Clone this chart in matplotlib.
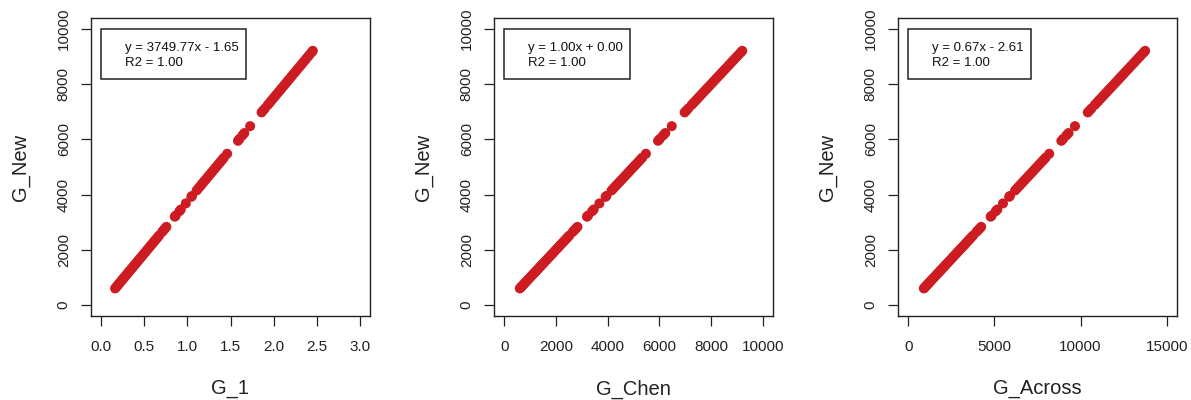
import numpy as np
import matplotlib
matplotlib.use("Agg")
import matplotlib.pyplot as plt
import matplotlib.transforms as mtransforms
from matplotlib.patches import Rectangle

plt.rcParams['font.family'] = ['Liberation Sans', 'DejaVu Sans']

# values (all three panels share G_New)
g_new = [600, 640, 680, 720, 760, 800, 850, 900, 950, 1000, 1050, 1100, 1150, 1200,
         1250, 1300, 1350, 1400, 1450, 1500, 1560, 1620, 1680, 1740, 1800, 1860, 1920,
         1980, 2040, 2100, 2160, 2220, 2280, 2340, 2400, 2460, 2520, 2650, 2710, 2770,
         2830, 3200, 3240, 3400, 3460, 3680, 3920, 3950, 4150, 4220, 4290, 4360, 4430,
         4500, 4570, 4640, 4710, 4780, 4850, 4920, 4990, 5060, 5130, 5200, 5270, 5340,
         5480, 5950, 6020, 6150, 6230, 6480, 6980, 7040, 7120, 7250, 7330, 7400, 7480,
         7560, 7640, 7720, 7800, 7880, 7960, 8040, 8120, 8200, 8280, 8360, 8440, 8520,
         8600, 8680, 8760, 8840, 8920, 9000, 9080, 9160, 9210]

g_1 = [0.160, 0.171, 0.181, 0.192, 0.203, 0.213, 0.227, 0.240, 0.253, 0.267, 0.280,
       0.293, 0.307, 0.320, 0.333, 0.347, 0.360, 0.373, 0.387, 0.400, 0.416, 0.432,
       0.448, 0.464, 0.480, 0.496, 0.512, 0.528, 0.544, 0.560, 0.576, 0.592, 0.608,
       0.624, 0.640, 0.656, 0.672, 0.707, 0.723, 0.739, 0.755, 0.853, 0.864, 0.907,
       0.923, 0.981, 1.045, 1.053, 1.107, 1.125, 1.144, 1.163, 1.181, 1.200, 1.219,
       1.237, 1.256, 1.275, 1.293, 1.312, 1.331, 1.349, 1.368, 1.387, 1.405, 1.424,
       1.461, 1.587, 1.605, 1.640, 1.661, 1.728, 1.861, 1.877, 1.899, 1.933, 1.955,
       1.973, 1.995, 2.016, 2.037, 2.059, 2.080, 2.101, 2.123, 2.144, 2.165, 2.187,
       2.208, 2.229, 2.251, 2.272, 2.293, 2.315, 2.336, 2.357, 2.379, 2.400, 2.421,
       2.443, 2.456]

g_chen = [600, 640, 680, 720, 760, 800, 850, 900, 950, 1000, 1050, 1100, 1150, 1200,
          1250, 1300, 1350, 1400, 1450, 1500, 1560, 1620, 1680, 1740, 1800, 1860, 1920,
          1980, 2040, 2100, 2160, 2220, 2280, 2340, 2400, 2460, 2520, 2650, 2710, 2770,
          2830, 3200, 3240, 3400, 3460, 3680, 3920, 3950, 4150, 4220, 4290, 4360, 4430,
          4500, 4570, 4640, 4710, 4780, 4850, 4920, 4990, 5060, 5130, 5200, 5270, 5340,
          5480, 5950, 6020, 6150, 6230, 6480, 6980, 7040, 7120, 7250, 7330, 7400, 7480,
          7560, 7640, 7720, 7800, 7880, 7960, 8040, 8120, 8200, 8280, 8360, 8440, 8520,
          8600, 8680, 8760, 8840, 8920, 9000, 9080, 9160, 9210]

g_across = [899, 959, 1019, 1079, 1138, 1198, 1273, 1347, 1422, 1496, 1571, 1646, 1720,
            1795, 1870, 1944, 2019, 2093, 2168, 2243, 2332, 2422, 2511, 2601, 2690, 2780,
            2870, 2959, 3049, 3138, 3228, 3317, 3407, 3497, 3586, 3676, 3765, 3959, 4049,
            4138, 4228, 4780, 4840, 5079, 5168, 5496, 5855, 5900, 6198, 6302, 6407, 6511,
            6616, 6720, 6825, 6929, 7034, 7138, 7243, 7347, 7452, 7556, 7661, 7765, 7870,
            7974, 8183, 8885, 8989, 9183, 9302, 9676, 10422, 10511, 10631, 10825, 10944,
            11049, 11168, 11288, 11407, 11527, 11646, 11765, 11885, 12004, 12124, 12243,
            12362, 12482, 12601, 12720, 12840, 12959, 13079, 13198, 13317, 13437, 13556,
            13676, 13750]

x_names = ["G_1", "G_Chen", "G_Across"]
x_series = [g_1, g_chen, g_across]
x_limits = [(0, 3), (0, 10000), (0, 15000)]
x_ticks = [[0.0, 0.5, 1.0, 1.5, 2.0, 2.5, 3.0],
           [0, 2000, 4000, 6000, 8000, 10000],
           [0, 5000, 10000, 15000]]
x_ticklabels = [["0.0", "0.5", "1.0", "1.5", "2.0", "2.5", "3.0"],
                ["0", "2000", "4000", "6000", "8000", "10000"],
                ["0", "5000", "10000", "15000"]]
y_ticks = [0, 2000, 4000, 6000, 8000, 10000]
fit_text = [["y = 3749.77x - 1.65", "R2 = 1.00"],
            ["y = 1.00x + 0.00", "R2 = 1.00"],
            ["y = 0.67x - 2.61", "R2 = 1.00"]]

red = "#CC1C22"
lefts = [91, 494, 898]

fig = plt.figure(figsize=(11.91, 4.0), dpi=100)
boxes = []

for i in range(3):
    ax = fig.add_axes([lefts[i] / 1191, 1 - 316 / 400, 279 / 1191, 298 / 400])
    ax.scatter(x_series[i], g_new, s=52, color=red, edgecolors='none', zorder=3)

    lo, hi = x_limits[i]
    pad = (hi - lo) * 0.04
    ax.set_xlim(lo - pad, hi + pad)
    ax.set_ylim(-400, 10400)

    ax.set_xticks(x_ticks[i])
    ax.set_xticklabels(x_ticklabels[i])
    ax.set_yticks(y_ticks)
    ax.set_yticklabels([str(v) for v in y_ticks], rotation=90, va='center')
    ax.tick_params(direction='out', length=7.5, width=0.9, color='#222222',
                   labelsize=11, labelcolor='#222222')
    ax.tick_params(axis='x', pad=10)
    ax.tick_params(axis='y', pad=7)
    for sp in ax.spines.values():
        sp.set_linewidth(1.0)
        sp.set_color('#222222')

    ax.set_xlabel(x_names[i], fontsize=14.5, labelpad=18, color='#222222')
    ax.set_ylabel("G_New", fontsize=14.5, labelpad=19, color='#222222')

    # fit box, R legend style, anchored at (0, 10000) and sized in pixels
    px = mtransforms.Affine2D() + mtransforms.ScaledTranslation(0, 10000, ax.transData)
    texts = []
    for k, line in enumerate(fit_text[i]):
        t = ax.text(24, -19 - 15 * k, line, transform=px, fontsize=9.5,
                    va='center', ha='left', color='#111111', zorder=6)
        texts.append(t)
    rect = Rectangle((0, -50), 150, 50, transform=px, facecolor='white',
                     edgecolor='#222222', linewidth=1.1, zorder=5)
    ax.add_patch(rect)
    boxes.append((rect, texts))

fig.canvas.draw()
r = fig.canvas.get_renderer()
for rect, texts in boxes:
    w = max(t.get_window_extent(r).width for t in texts)
    rect.set_width(24 + w + 7)

fig.savefig("out.png", dpi=100)
